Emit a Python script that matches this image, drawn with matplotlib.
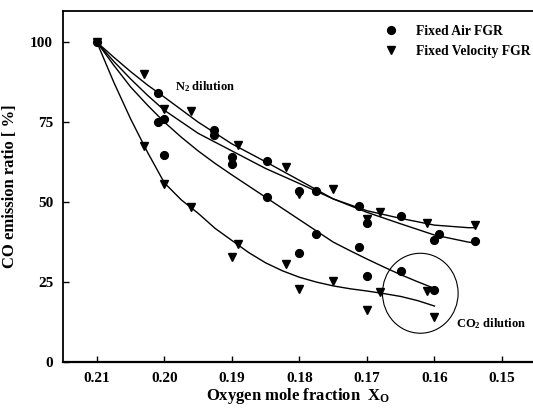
import matplotlib
matplotlib.use('Agg')
import matplotlib.pyplot as plt
from matplotlib.patches import Ellipse

# Fixed Air FGR (circles)
air_x = [0.21, 0.2009, 0.2009, 0.200, 0.200, 0.1926, 0.1926, 0.190, 0.190, 0.1848, 0.1848,
         0.180, 0.180, 0.1776, 0.1776, 0.1712, 0.1712, 0.170, 0.170, 0.165, 0.165,
         0.1601, 0.1594, 0.1601, 0.154]
air_y = [100, 84.0, 75.0, 75.9, 64.6, 72.4, 71.1, 64.1, 62.0, 63.0, 51.6,
         53.4, 34.0, 53.4, 40.1, 48.9, 36.0, 43.6, 26.8, 45.5, 28.4,
         38.3, 39.9, 22.6, 37.8]

# Fixed Velocity FGR (triangles)
vel_x = [0.21, 0.203, 0.200, 0.196, 0.1891, 0.182, 0.180, 0.175, 0.170, 0.168, 0.1611, 0.154,
         0.203, 0.200, 0.196, 0.190, 0.1891, 0.182, 0.180, 0.175, 0.170, 0.168, 0.1611, 0.1601]
vel_y = [100, 90.2, 79.0, 78.5, 67.8, 61.0, 52.4, 54.1, 44.7, 47.0, 43.6, 42.9,
         67.6, 55.6, 48.4, 32.8, 37.0, 30.6, 22.9, 25.2, 16.2, 21.8, 22.3, 14.1]

# trend curves
n2_x = [0.21, 0.2075, 0.205, 0.2025, 0.20, 0.195, 0.19, 0.185, 0.18, 0.175, 0.17, 0.165, 0.16, 0.155, 0.154]
n2_vel_y = [100, 95.3, 90.8, 86.6, 82.8, 75.0, 68.2, 62.6, 56.8, 51.0, 47.3, 44.9, 42.8, 42.0, 42.0]
n2_air_y = [100, 94.0, 88.5, 83.4, 78.7, 71.5, 66.0, 60.5, 55.8, 51.0, 46.8, 43.2, 39.7, 37.5, 37.2]

co2_x = [0.21, 0.2075, 0.205, 0.2025, 0.20, 0.1975, 0.195, 0.1925, 0.19, 0.1875, 0.185, 0.1825,
         0.18, 0.1775, 0.175, 0.1725, 0.17, 0.1675, 0.165, 0.1625, 0.16]
co2_air_y = [100, 92.8, 86.0, 80.3, 75.0, 70.3, 66.0, 62.1, 58.5, 55.0, 51.5, 48.0,
             44.5, 41.0, 37.5, 34.8, 32.2, 29.7, 27.3, 25.1, 23.0]
co2_vel_y = [100, 87.5, 76.0, 65.6, 56.0, 50.7, 46.5, 41.8, 38.0, 34.2, 31.0, 28.5,
             26.5, 25.0, 23.8, 22.9, 22.2, 21.4, 20.5, 19.2, 17.5]

plt.rcParams['font.family'] = 'Liberation Serif'
plt.rcParams['font.weight'] = 'bold'
plt.rcParams['mathtext.fontset'] = 'custom'
plt.rcParams['mathtext.rm'] = 'Liberation Serif:bold'
plt.rcParams['mathtext.it'] = 'Liberation Serif:bold'
plt.rcParams['mathtext.bf'] = 'Liberation Serif:bold'

fig = plt.figure(figsize=(5.33, 4.08), dpi=100)
ax = fig.add_axes([0.118, 0.1127, 0.882, 0.860])

ax.plot(n2_x, n2_vel_y, color='black', lw=1.0)
ax.plot(n2_x, n2_air_y, color='black', lw=1.0)
ax.plot(co2_x, co2_air_y, color='black', lw=1.0)
ax.plot(co2_x, co2_vel_y, color='black', lw=1.0)

ax.plot(air_x, air_y, 'o', color='black', ms=5.6, label='Fixed Air FGR')
ax.plot(vel_x, vel_y, 'v', color='black', ms=6, label='Fixed Velocity FGR')

ax.add_patch(Ellipse((0.1621, 21.5), 0.0112, 25.0, fill=False, color='black', lw=0.8))

ax.text(0.1985, 86, 'N$_2$ dilution', fontsize=9, fontweight='bold', va='center')
ax.text(0.1568, 12, 'CO$_2$ dilution', fontsize=9, fontweight='bold', va='center')

ax.set_xlim(0.21503, 0.14541)
ax.set_ylim(0, 109.7)
ax.set_xticks([0.21, 0.20, 0.19, 0.18, 0.17, 0.16, 0.15])
ax.set_xticklabels(['0.21', '0.20', '0.19', '0.18', '0.17', '0.16', '0.15'])
ax.set_yticks([0, 25, 50, 75, 100])
ax.tick_params(direction='in', length=4, width=1, labelsize=11, pad=7)
for lbl in ax.get_xticklabels() + ax.get_yticklabels():
    lbl.set_fontweight('bold')

ax.spines['right'].set_visible(False)
ax.spines['bottom'].set_linewidth(1.6)
ax.spines['left'].set_linewidth(1.3)
ax.spines['top'].set_linewidth(1.3)

ax.set_ylabel('CO emission ratio [ %]', fontsize=12, fontweight='bold', labelpad=9)
ax.set_xlabel('Oxygen mole fraction  X$_O$', fontsize=12, fontweight='bold', labelpad=1)

ax.legend(loc='upper left', bbox_to_anchor=(0.655, 0.995), frameon=False,
          handletextpad=1.2, labelspacing=0.5, handlelength=1.2, prop={'weight': 'bold', 'size': 9.8})

fig.savefig('out.png', dpi=100)
